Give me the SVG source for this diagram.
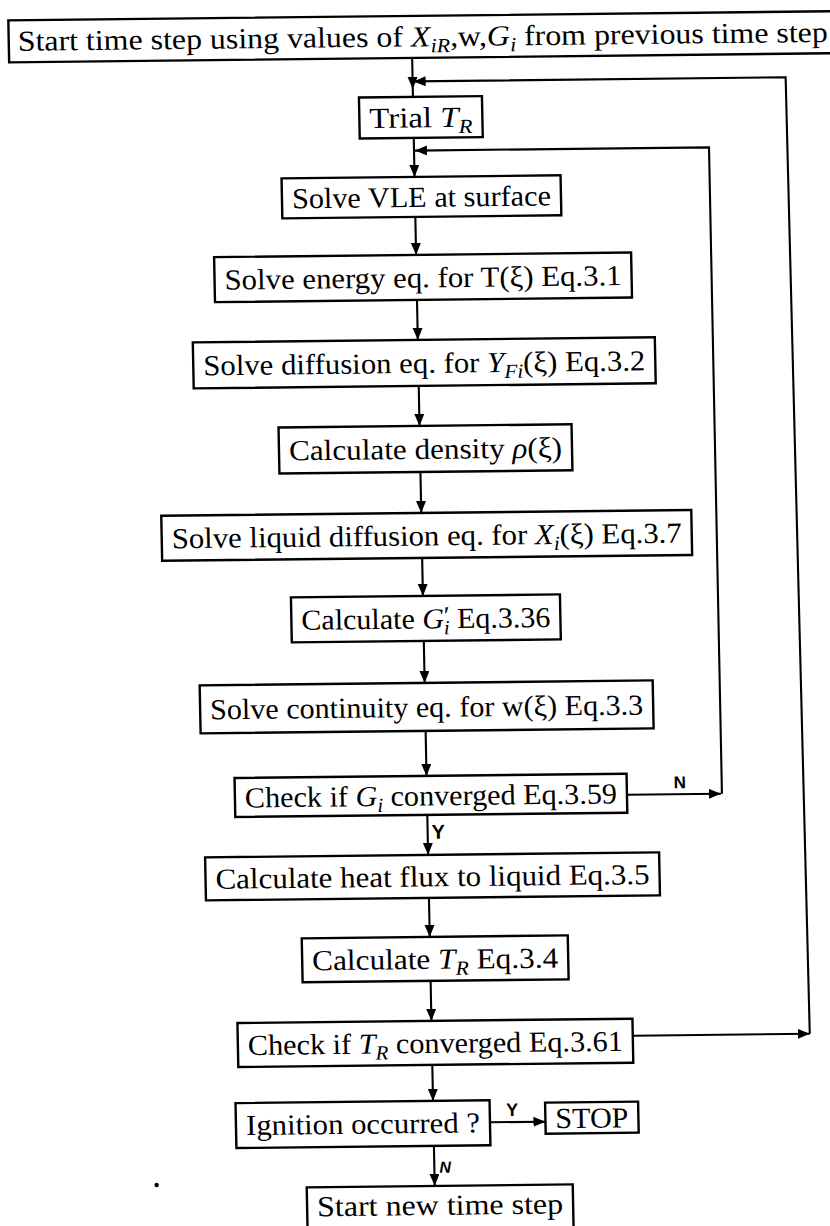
<svg xmlns="http://www.w3.org/2000/svg" width="830" height="1226" viewBox="0 0 830 1226">
<style>
.box{fill:#fff;stroke:#000;stroke-width:2.4}
.t{font-family:"Liberation Serif","Times New Roman",serif;font-size:29px;fill:#000}
.it{font-style:italic}
.sb{font-size:20px;font-style:italic}
.lab{font-family:"Liberation Sans",Arial,sans-serif;font-weight:bold;fill:#000}
.c{fill:none;stroke:#000;stroke-width:2.1}
</style>
<defs>
<marker id="ah" markerUnits="userSpaceOnUse" markerWidth="14" markerHeight="11" refX="12" refY="5" orient="auto"><path d="M0,0 L12,5 L0,10 z" fill="#000"/></marker>
</defs>
<rect width="830" height="1226" fill="#fff"/>
<g transform="matrix(1 -0.011 0.02 1 -12 4.565)">
<g id="connectors">
<path class="c" d="M423,58 V89" marker-end="url(#ah)"/>
<path class="c" d="M423,89 V97"/>
<path class="c" d="M423,138 V177" marker-end="url(#ah)"/>
<path class="c" d="M423,217 V255" marker-end="url(#ah)"/>
<path class="c" d="M423,300 V340" marker-end="url(#ah)"/>
<path class="c" d="M423,386 V426" marker-end="url(#ah)"/>
<path class="c" d="M423,472 V513" marker-end="url(#ah)"/>
<path class="c" d="M423,558 V596" marker-end="url(#ah)"/>
<path class="c" d="M423,641 V683" marker-end="url(#ah)"/>
<path class="c" d="M423,731 V776" marker-end="url(#ah)"/>
<path class="c" d="M423,815 V855" marker-end="url(#ah)"/>
<path class="c" d="M423,898 V937" marker-end="url(#ah)"/>
<path class="c" d="M423,981 V1021" marker-end="url(#ah)"/>
<path class="c" d="M423,1065 V1101" marker-end="url(#ah)"/>
<path class="c" d="M423,1146 V1186" marker-end="url(#ah)"/>
<path class="c" d="M624,1038 H801" marker-end="url(#ah)"/>
<path class="c" d="M801,1038 L796,81.5 H424" marker-end="url(#ah)"/>
<path class="c" d="M623,797 H717" marker-end="url(#ah)"/>
<path class="c" d="M718,797 V150.7 H424" marker-end="url(#ah)"/>
<path class="c" d="M479.5,1123 H535" marker-end="url(#ah)"/>
<text class="lab" x="670" y="791" font-size="17">N</text>
<text class="lab" x="427" y="839" font-size="20">Y</text>
<text class="lab" x="496" y="1117" font-size="18">Y</text>
<text class="lab" x="428" y="1173" font-size="16" font-style="italic">N</text>
</g>
<g id="start">
<rect class="box" x="20" y="16" width="830" height="42" stroke-width="3"/>
<text class="t" x="29" y="46.5" textLength="810" lengthAdjust="spacingAndGlyphs">Start time step using values of <tspan class="it">X</tspan><tspan class="sb" dy="6">iR</tspan><tspan dy="-6">,w,</tspan><tspan class="it">G</tspan><tspan class="sb" dy="6">i</tspan><tspan dy="-6"> from previous time step</tspan></text>
</g>
<g id="trial">
<rect class="box" x="369" y="97" width="123" height="41"/>
<text class="t" x="430.5" y="127.5" text-anchor="middle" textLength="103" lengthAdjust="spacingAndGlyphs">Trial <tspan class="it">T</tspan><tspan class="sb" dy="6">R</tspan></text>
</g>
<g id="vle">
<rect class="box" x="290" y="177" width="279" height="40"/>
<text class="t" x="429.5" y="207" text-anchor="middle" textLength="259" lengthAdjust="spacingAndGlyphs">Solve VLE at surface</text>
</g>
<g id="energy">
<rect class="box" x="221" y="255" width="417" height="45"/>
<text class="t" x="429.5" y="287.5" text-anchor="middle" textLength="397" lengthAdjust="spacingAndGlyphs">Solve energy eq.  for T(ξ) Eq.3.1</text>
</g>
<g id="diffusion">
<rect class="box" x="198" y="340" width="462" height="46"/>
<text class="t" x="429" y="373" text-anchor="middle" textLength="442" lengthAdjust="spacingAndGlyphs">Solve diffusion eq.  for <tspan class="it">Y</tspan><tspan class="sb" dy="6">Fi</tspan><tspan dy="-6">(ξ) Eq.3.2</tspan></text>
</g>
<g id="density">
<rect class="box" x="282" y="426" width="293" height="46"/>
<text class="t" x="428.5" y="459" text-anchor="middle" textLength="273" lengthAdjust="spacingAndGlyphs">Calculate density <tspan class="it">ρ</tspan>(ξ)</text>
</g>
<g id="liquid">
<rect class="box" x="163" y="513" width="530" height="45"/>
<text class="t" x="428" y="545.5" text-anchor="middle" textLength="510" lengthAdjust="spacingAndGlyphs">Solve liquid diffusion eq.  for <tspan class="it">X</tspan><tspan class="sb" dy="6">i</tspan><tspan dy="-6">(ξ) Eq.3.7</tspan></text>
</g>
<g id="gprime">
<rect class="box" x="291" y="596" width="269" height="45"/>
<text class="t" x="425.5" y="628.5" text-anchor="middle" textLength="249" lengthAdjust="spacingAndGlyphs">Calculate <tspan class="it">G</tspan><tspan font-size="26" dy="-4">′</tspan><tspan class="sb" dx="-6" dy="10">i</tspan><tspan dy="-6"> Eq.3.36</tspan></text>
</g>
<g id="continuity">
<rect class="box" x="198" y="683" width="453" height="48"/>
<text class="t" x="424.5" y="717" text-anchor="middle" textLength="433" lengthAdjust="spacingAndGlyphs">Solve continuity eq.  for w(ξ) Eq.3.3</text>
</g>
<g id="checkG">
<rect class="box" x="231" y="776" width="392" height="39"/>
<text class="t" x="427" y="805.5" text-anchor="middle" textLength="372" lengthAdjust="spacingAndGlyphs">Check if <tspan class="it">G</tspan><tspan class="sb" dy="6">i</tspan><tspan dy="-6"> converged Eq.3.59</tspan></text>
</g>
<g id="heatflux">
<rect class="box" x="200" y="855" width="454" height="43"/>
<text class="t" x="427" y="886.5" text-anchor="middle" textLength="434" lengthAdjust="spacingAndGlyphs">Calculate heat flux to liquid Eq.3.5</text>
</g>
<g id="calcTR">
<rect class="box" x="295" y="937" width="266" height="44"/>
<text class="t" x="428" y="969" text-anchor="middle" textLength="246" lengthAdjust="spacingAndGlyphs">Calculate <tspan class="it">T</tspan><tspan class="sb" dy="6">R</tspan><tspan dy="-6"> Eq.3.4</tspan></text>
</g>
<g id="checkTR">
<rect class="box" x="229" y="1021" width="395" height="44"/>
<text class="t" x="426.5" y="1053" text-anchor="middle" textLength="375" lengthAdjust="spacingAndGlyphs">Check if <tspan class="it">T</tspan><tspan class="sb" dy="6">R</tspan><tspan dy="-6"> converged Eq.3.61</tspan></text>
</g>
<g id="ignition">
<rect class="box" x="225.5" y="1101" width="254" height="45"/>
<text class="t" x="352.5" y="1133" text-anchor="middle" textLength="234" lengthAdjust="spacingAndGlyphs">Ignition occurred ?</text>
</g>
<g id="stop">
<rect class="box" x="535" y="1104" width="93" height="31"/>
<text class="t" x="581.5" y="1129.5" text-anchor="middle" textLength="73" lengthAdjust="spacingAndGlyphs">STOP</text>
</g>
<g id="newstep">
<rect class="box" x="295" y="1186" width="266" height="52"/>
<text class="t" x="428" y="1215" text-anchor="middle" textLength="246" lengthAdjust="spacingAndGlyphs">Start new time step</text>
</g>
<circle cx="145" cy="1182" r="2.2" fill="#000"/>
</g>
</svg>
